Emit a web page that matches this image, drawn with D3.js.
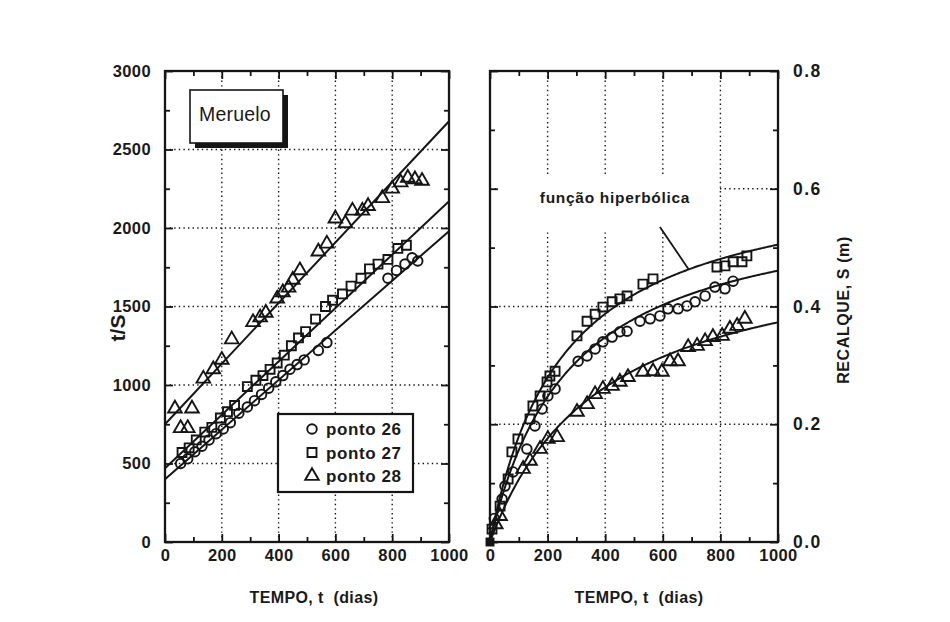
<!DOCTYPE html>
<html>
<head>
<meta charset="utf-8">
<script src="https://cdn.jsdelivr.net/npm/d3@7/dist/d3.min.js"></script>
<style>
  html, body { margin: 0; padding: 0; background: #fff; }
  svg { display: block; }
  text { font-family: "Liberation Sans", Arial, Helvetica, sans-serif; fill: #1a1a1a; }
</style>
</head>
<body>
<svg id="chart" width="950" height="622"></svg>
<script>
// ---- Data -------------------------------------------------------------
const seriesNames = ["ponto 26", "ponto 27", "ponto 28"];
const xTicks = [0, 200, 400, 600, 800, 1000];
const ratioTicks = [0, 500, 1000, 1500, 2000, 2500, 3000];
const settleTicks = [0.0, 0.2, 0.4, 0.6, 0.8];

// Linear fits t/S = a + b·t (also give the hyperbolic curves S = t/(a + b·t))
const fitIntercept = [400, 470, 750];
const fitSlope = [1.58, 1.70, 1.93];

// t/S readings (days, days/m)
const t26 = [55, 80, 105, 130, 155, 180, 205, 230, 260, 290, 315, 340, 365, 390, 415, 440, 465, 490, 540, 570, 785, 815, 845, 870, 890];
const r26 = [500, 530, 575, 610, 650, 690, 720, 760, 820, 860, 900, 940, 980, 1020, 1060, 1100, 1130, 1160, 1220, 1270, 1680, 1730, 1770, 1810, 1790];
const t27 = [60, 85, 110, 140, 165, 195, 220, 245, 290, 320, 345, 370, 395, 420, 445, 470, 495, 530, 565, 590, 625, 655, 690, 720, 750, 785, 820, 850];
const r27 = [570, 600, 650, 700, 730, 790, 830, 870, 990, 1030, 1060, 1100, 1140, 1190, 1250, 1300, 1340, 1420, 1500, 1540, 1580, 1630, 1680, 1740, 1770, 1800, 1870, 1890];
const t28 = [35, 55, 80, 95, 135, 170, 200, 235, 310, 335, 355, 395, 415, 435, 450, 475, 540, 570, 600, 635, 660, 695, 715, 765, 800, 830, 855, 880, 905];
const r28 = [850, 725, 725, 850, 1040, 1100, 1160, 1290, 1400, 1430, 1460, 1550, 1590, 1620, 1670, 1730, 1850, 1900, 2060, 2030, 2110, 2110, 2140, 2190, 2250, 2290, 2320, 2310, 2300];

// Settlement readings S (m), one set per hyperbolic curve (upper, middle, lower)
const tUpper = [7, 35, 63, 76, 97, 139, 149, 174, 198, 208, 226, 302, 337, 365, 392, 424, 451, 476, 531, 566, 788, 816, 844, 875, 892];
const sUpper = [0.022, 0.061, 0.107, 0.153, 0.175, 0.209, 0.231, 0.248, 0.272, 0.282, 0.290, 0.350, 0.375, 0.387, 0.399, 0.408, 0.413, 0.418, 0.438, 0.447, 0.467, 0.469, 0.476, 0.476, 0.486];
const tMiddle = [15, 42, 52, 80, 128, 156, 181, 201, 226, 306, 337, 365, 392, 424, 451, 476, 521, 556, 590, 618, 653, 684, 712, 747, 781, 816, 844];
const sMiddle = [0.040, 0.073, 0.095, 0.119, 0.158, 0.197, 0.226, 0.248, 0.260, 0.307, 0.316, 0.328, 0.340, 0.348, 0.357, 0.358, 0.375, 0.379, 0.384, 0.396, 0.396, 0.401, 0.408, 0.418, 0.433, 0.430, 0.443];
const tLower = [20, 35, 115, 139, 174, 201, 233, 302, 337, 365, 392, 424, 451, 479, 531, 566, 597, 625, 653, 688, 719, 747, 774, 806, 833, 858, 885];
const sLower = [0.030, 0.044, 0.124, 0.138, 0.158, 0.175, 0.178, 0.221, 0.234, 0.251, 0.260, 0.265, 0.272, 0.280, 0.289, 0.290, 0.289, 0.307, 0.307, 0.331, 0.333, 0.341, 0.348, 0.350, 0.362, 0.367, 0.379];

// ---- Setup ------------------------------------------------------------
const svg = d3.select("#chart");
const ink = "#151515";

const left = { x0: 165, x1: 449, y0: 542, y1: 71 };
const right = { x0: 490, x1: 778, y0: 542, y1: 71 };

const xL = d3.scaleLinear().domain([0, 1000]).range([left.x0, left.x1]);
const yL = d3.scaleLinear().domain([0, 3000]).range([left.y0, left.y1]);
const xR = d3.scaleLinear().domain([0, 1000]).range([right.x0, right.x1]);
const yR = d3.scaleLinear().domain([0, 0.8]).range([right.y0, right.y1]);

const symbolGen = {
  circle: d3.symbol().type(d3.symbolCircle).size(72),
  square: d3.symbol().type(d3.symbolSquare).size(80),
  triangle: d3.symbol().type(d3.symbolTriangle).size(80)
};
const leftSymbols = ["circle", "square", "triangle"];
const rightSymbols = ["square", "circle", "triangle"];
const markStroke = 1.9;

function grid(g, xs, ys, xVals, yVals, box) {
  g.selectAll(".gx").data(xVals).join("line")
    .attr("x1", d => xs(d)).attr("x2", d => xs(d))
    .attr("y1", box.y0).attr("y2", box.y1);
  g.selectAll(".gy").data(yVals).join("line")
    .attr("class", "gy")
    .attr("x1", box.x0).attr("x2", box.x1)
    .attr("y1", d => ys(d)).attr("y2", d => ys(d));
  g.selectAll("line")
    .attr("stroke", ink).attr("stroke-width", 1.4)
    .attr("stroke-dasharray", "1.4,3.2");
}

function frameTicks(g, xs, ys, box, xMinor, yMajor, yMinor) {
  const strip = sel => sel.select(".domain").remove();
  const style = sel => sel.selectAll("line").attr("stroke", ink).attr("stroke-width", 1.8);
  // bottom & top
  g.append("g").attr("transform", `translate(0,${box.y0})`)
    .call(d3.axisBottom(xs).tickValues(xTicks).tickSize(-8).tickFormat("")).call(strip).call(style);
  g.append("g").attr("transform", `translate(0,${box.y0})`)
    .call(d3.axisBottom(xs).tickValues(xMinor).tickSize(-5).tickFormat("")).call(strip).call(style);
  g.append("g").attr("transform", `translate(0,${box.y1})`)
    .call(d3.axisTop(xs).tickValues(xTicks).tickSize(-8).tickFormat("")).call(strip).call(style);
  g.append("g").attr("transform", `translate(0,${box.y1})`)
    .call(d3.axisTop(xs).tickValues(xMinor).tickSize(-5).tickFormat("")).call(strip).call(style);
  // left & right
  g.append("g").attr("transform", `translate(${box.x0},0)`)
    .call(d3.axisLeft(ys).tickValues(yMajor).tickSize(-8).tickFormat("")).call(strip).call(style);
  g.append("g").attr("transform", `translate(${box.x0},0)`)
    .call(d3.axisLeft(ys).tickValues(yMinor).tickSize(-5).tickFormat("")).call(strip).call(style);
  g.append("g").attr("transform", `translate(${box.x1},0)`)
    .call(d3.axisRight(ys).tickValues(yMajor).tickSize(-8).tickFormat("")).call(strip).call(style);
  g.append("g").attr("transform", `translate(${box.x1},0)`)
    .call(d3.axisRight(ys).tickValues(yMinor).tickSize(-5).tickFormat("")).call(strip).call(style);
  g.append("rect")
    .attr("x", box.x0).attr("y", box.y1)
    .attr("width", box.x1 - box.x0).attr("height", box.y0 - box.y1)
    .attr("fill", "none").attr("stroke", ink).attr("stroke-width", 2.3);
}

function labelAxis(sel, size, spacing) {
  sel.select(".domain").remove();
  sel.selectAll("line").remove();
  sel.selectAll("text")
    .attr("font-size", size)
    .attr("font-weight", "bold")
    .attr("font-family", "'Liberation Sans', Arial, sans-serif")
    .attr("fill", ink)
    .attr("letter-spacing", spacing);
}

const xMinor = d3.range(100, 1000, 200);

// ---- Left panel: t/S versus t ----------------------------------------
const gL = svg.append("g");
grid(gL, xL, yL, [200, 400, 600, 800], [500, 1000, 1500, 2000, 2500], left);

// fitted straight lines
const fitLine = d3.line().x(d => xL(d[0])).y(d => yL(d[1]));
gL.selectAll(".fit").data(fitIntercept).join("path")
  .attr("d", (a, i) => fitLine([[0, a], [1000, a + fitSlope[i] * 1000]]))
  .attr("fill", "none").attr("stroke", ink).attr("stroke-width", 2);

// readings
const leftSets = [[t26, r26], [t27, r27], [t28, r28]];
leftSets.forEach(([ts, rs], i) => {
  gL.append("g").selectAll("path").data(ts).join("path")
    .attr("transform", (t, j) => `translate(${xL(t)},${yL(rs[j])})`)
    .attr("d", symbolGen[leftSymbols[i]]())
    .attr("fill", "none").attr("stroke", ink).attr("stroke-width", markStroke);
});

// "Meruelo" tag with drop shadow
gL.append("rect").attr("x", 195).attr("y", 95).attr("width", 93).attr("height", 53).attr("fill", ink);
gL.append("rect").attr("x", 190).attr("y", 90).attr("width", 93).attr("height", 53)
  .attr("fill", "#fff").attr("stroke", ink).attr("stroke-width", 1.6);
gL.append("text").attr("x", 235).attr("y", 121).attr("text-anchor", "middle")
  .attr("font-size", 19.5).attr("fill", ink).attr("letter-spacing", "0.2").text("Meruelo");

// legend
const leg = gL.append("g");
leg.append("rect").attr("x", 278).attr("y", 414).attr("width", 135).attr("height", 78)
  .attr("fill", "#fff").attr("stroke", ink).attr("stroke-width", 2.2);
seriesNames.forEach((name, i) => {
  const y = 429 + i * 23.5;
  leg.append("path").attr("transform", `translate(312,${y})`)
    .attr("d", symbolGen[leftSymbols[i]]())
    .attr("fill", "none").attr("stroke", ink).attr("stroke-width", markStroke);
  leg.append("text").attr("x", 326).attr("y", y).attr("dy", "0.36em")
    .attr("font-size", 17).attr("font-weight", "bold").attr("fill", ink)
    .attr("letter-spacing", "0.6").text(name);
});

frameTicks(gL, xL, yL, left, xMinor, ratioTicks, d3.range(250, 3000, 500));

svg.append("g").attr("transform", `translate(0,${left.y0})`)
  .call(d3.axisBottom(xL).tickValues(xTicks).tickSize(0).tickPadding(7).tickFormat(d3.format("d")))
  .call(labelAxis, 16.5, "0.4");
svg.append("g").attr("transform", `translate(${left.x0},0)`)
  .call(d3.axisLeft(yL).tickValues(ratioTicks).tickSize(0).tickPadding(14).tickFormat(d3.format("d")))
  .call(labelAxis, 16.5, "0.4");

svg.append("text").attr("transform", "translate(125,328) rotate(-90)")
  .attr("text-anchor", "middle").attr("font-size", 21).attr("font-weight", "bold")
  .attr("fill", ink).text("t/S");
svg.append("text").attr("x", (left.x0 + left.x1) / 2 + 7).attr("y", 603)
  .attr("text-anchor", "middle").attr("font-size", 16).attr("font-weight", "bold")
  .attr("fill", ink).attr("xml:space", "preserve").attr("letter-spacing", "0.4")
  .text("TEMPO, t  (dias)");

// ---- Right panel: settlement versus t --------------------------------
const gR = svg.append("g");
grid(gR, xR, yR, [200, 400, 600, 800], [0.2, 0.4, 0.6], right);

// white backing behind the curve annotation
gR.append("rect").attr("x", 497).attr("y", 176).attr("width", 221).attr("height", 55).attr("fill", "#fff");

const tSamples = d3.range(0, 1000.5, 5);
const hyper = d3.line().x(d => xR(d[0])).y(d => yR(d[1]));
gR.selectAll(".curve").data(fitIntercept).join("path")
  .attr("d", (a, i) => hyper(tSamples.map(t => [t, t / (a + fitSlope[i] * t)])))
  .attr("fill", "none").attr("stroke", ink).attr("stroke-width", 2);

const rightSets = [[tUpper, sUpper], [tMiddle, sMiddle], [tLower, sLower]];
rightSets.forEach(([ts, ss], i) => {
  gR.append("g").selectAll("path").data(ts).join("path")
    .attr("transform", (t, j) => `translate(${xR(t)},${yR(ss[j])})`)
    .attr("d", symbolGen[rightSymbols[i]]())
    .attr("fill", "none").attr("stroke", ink).attr("stroke-width", markStroke);
});
// initial reading at the origin
gR.append("path").attr("transform", `translate(${xR(0)},${yR(0)})`)
  .attr("d", d3.symbol().type(d3.symbolSquare).size(80)()).attr("fill", ink);

// annotation
gR.append("text").attr("x", 615).attr("y", 197).attr("dy", "0.36em")
  .attr("text-anchor", "middle").attr("font-size", 15.5).attr("font-weight", "bold")
  .attr("fill", ink).attr("letter-spacing", "0.7").text("função hiperbólica");
const tArrow = 690;
gR.append("line")
  .attr("x1", xR(590)).attr("y1", 227)
  .attr("x2", xR(tArrow)).attr("y2", yR(tArrow / (fitIntercept[0] + fitSlope[0] * tArrow)))
  .attr("stroke", ink).attr("stroke-width", 1.8);

frameTicks(gR, xR, yR, right, xMinor, settleTicks, [0.1, 0.3, 0.5, 0.7]);

svg.append("g").attr("transform", `translate(0,${right.y0})`)
  .call(d3.axisBottom(xR).tickValues(xTicks).tickSize(0).tickPadding(7).tickFormat(d3.format("d")))
  .call(labelAxis, 16.5, "0.4");
svg.append("g").attr("transform", `translate(${right.x1},0)`)
  .call(d3.axisRight(yR).tickValues(settleTicks).tickSize(0).tickPadding(15).tickFormat(d3.format(".1f")))
  .call(labelAxis, 17.5, "1.4");

svg.append("text").attr("transform", "translate(849,310) rotate(-90)")
  .attr("text-anchor", "middle").attr("font-size", 16).attr("font-weight", "bold")
  .attr("fill", ink).attr("letter-spacing", "0.6").text("RECALQUE, S (m)");
svg.append("text").attr("x", (right.x0 + right.x1) / 2 + 5).attr("y", 603)
  .attr("text-anchor", "middle").attr("font-size", 16).attr("font-weight", "bold")
  .attr("fill", ink).attr("xml:space", "preserve").attr("letter-spacing", "0.4")
  .text("TEMPO, t  (dias)");
</script>
</body>
</html>
